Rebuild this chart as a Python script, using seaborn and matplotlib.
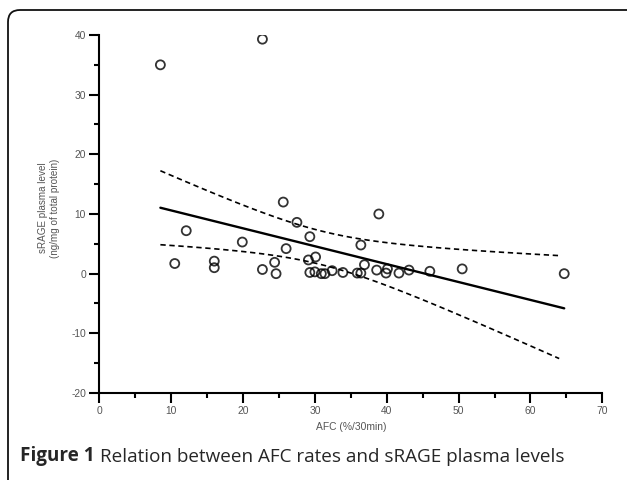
import numpy as np
import matplotlib
matplotlib.use("Agg")
import matplotlib.pyplot as plt
import seaborn as sns
from matplotlib.patches import FancyBboxPatch
from matplotlib.transforms import IdentityTransform
from matplotlib.ticker import MultipleLocator

# AFC rate (%/30min) and sRAGE plasma level (ng/mg of total protein)
afc = [8.5, 22.7, 25.6, 10.5, 12.1, 16.0, 16.0, 19.9, 22.7, 24.4,
       24.6, 26.0, 27.5, 29.3, 29.1, 30.1, 29.3, 30.0, 30.9, 31.4,
       32.4, 33.9, 35.9, 36.4, 36.4, 36.9, 38.6, 38.9, 39.9, 40.1,
       41.7, 43.1, 46.0, 50.5, 64.7]
srage = [35.0, 39.3, 12.0, 1.7, 7.2, 2.1, 1.0, 5.3, 0.7, 1.9,
         0.0, 4.2, 8.6, 6.2, 2.3, 2.8, 0.2, 0.3, 0.0, 0.0,
         0.5, 0.2, 0.1, 0.1, 4.8, 1.5, 0.6, 10.0, 0.1, 0.8,
         0.1, 0.6, 0.4, 0.8, 0.0]

x_label = "AFC (%/30min)"
y_label = "sRAGE plasma level\n(ng/mg of total protein)"
caption_bold = "Figure 1"
caption_rest = "Relation between AFC rates and sRAGE plasma levels"

sns.set_style("white")
plt.rcParams["font.family"] = ["Liberation Sans", "DejaVu Sans"]
plt.rcParams["axes.unicode_minus"] = False

fig = plt.figure(figsize=(6.27, 4.8), dpi=100)
ax = fig.add_axes([99.3 / 627, 1 - 393 / 480, 503 / 627, 358 / 480])

# scatter + OLS line
sns.regplot(x=afc, y=srage, ax=ax, ci=None, marker="o",
            scatter_kws={"facecolors": "none", "edgecolors": "black",
                         "linewidths": 1.3, "s": 42, "zorder": 3},
            line_kws={"color": "black", "linewidth": 1.7})

# 95% confidence band of the fit, drawn as dashed lines
x = np.array(afc)
y = np.array(srage)
n = len(x)
slope, icpt = np.polyfit(x, y, 1)
resid = y - (slope * x + icpt)
s = np.sqrt(np.sum(resid ** 2) / (n - 2))
sxx = np.sum((x - x.mean()) ** 2)
t_crit = 2.035  # t(0.975, df=33)
xs = np.linspace(x.min(), 64.0, 100)
fit = slope * xs + icpt
half = t_crit * s * np.sqrt(1 / n + (xs - x.mean()) ** 2 / sxx)
for band in (fit + half, fit - half):
    sns.lineplot(x=xs, y=band, ax=ax, color="black", linewidth=1.2,
                 linestyle=(0, (3.2, 2.2)))

ax.set_xlim(0, 70)
ax.set_ylim(-20, 40)
ax.xaxis.set_major_locator(MultipleLocator(10))
ax.xaxis.set_minor_locator(MultipleLocator(5))
ax.yaxis.set_major_locator(MultipleLocator(10))
ax.yaxis.set_minor_locator(MultipleLocator(5))
ax.tick_params(which="major", direction="out", length=7, width=1.5,
               color="black", labelsize=7.4, labelcolor="#555555", pad=2.5,
               bottom=True, left=True)
ax.tick_params(which="minor", direction="out", length=3.6, width=1.5,
               color="black", bottom=True, left=True)
sns.despine(ax=ax)
for side in ("left", "bottom"):
    ax.spines[side].set_linewidth(1.5)
    ax.spines[side].set_color("black")
ax.set_xlabel(x_label, fontsize=7.4, color="#555555", labelpad=4)
ax.set_ylabel("")
fig.text(49 / 627, 1 - 208 / 480, y_label, rotation=90, ha="center",
         va="center", multialignment="center", fontsize=7.1,
         color="#555555", linespacing=1.25)

# rounded frame around the figure panel
frame = FancyBboxPatch((8, -40), 660, 510, boxstyle="round,pad=0,rounding_size=12",
                       transform=IdentityTransform(), fill=False,
                       edgecolor="#111111", linewidth=1.3)
fig.patches.append(frame)

cap = fig.text(20 / 627, 1 - 461 / 480, caption_bold, fontsize=13.6,
               fontweight="bold", family="Open Sans", ha="left",
               va="baseline")
ax.annotate(caption_rest, xy=(1, 0), xycoords=cap, xytext=(4, 0),
            textcoords="offset points", fontsize=13.6, family="Open Sans",
            ha="left", va="bottom", annotation_clip=False)

fig.savefig("out.png", dpi=100)
